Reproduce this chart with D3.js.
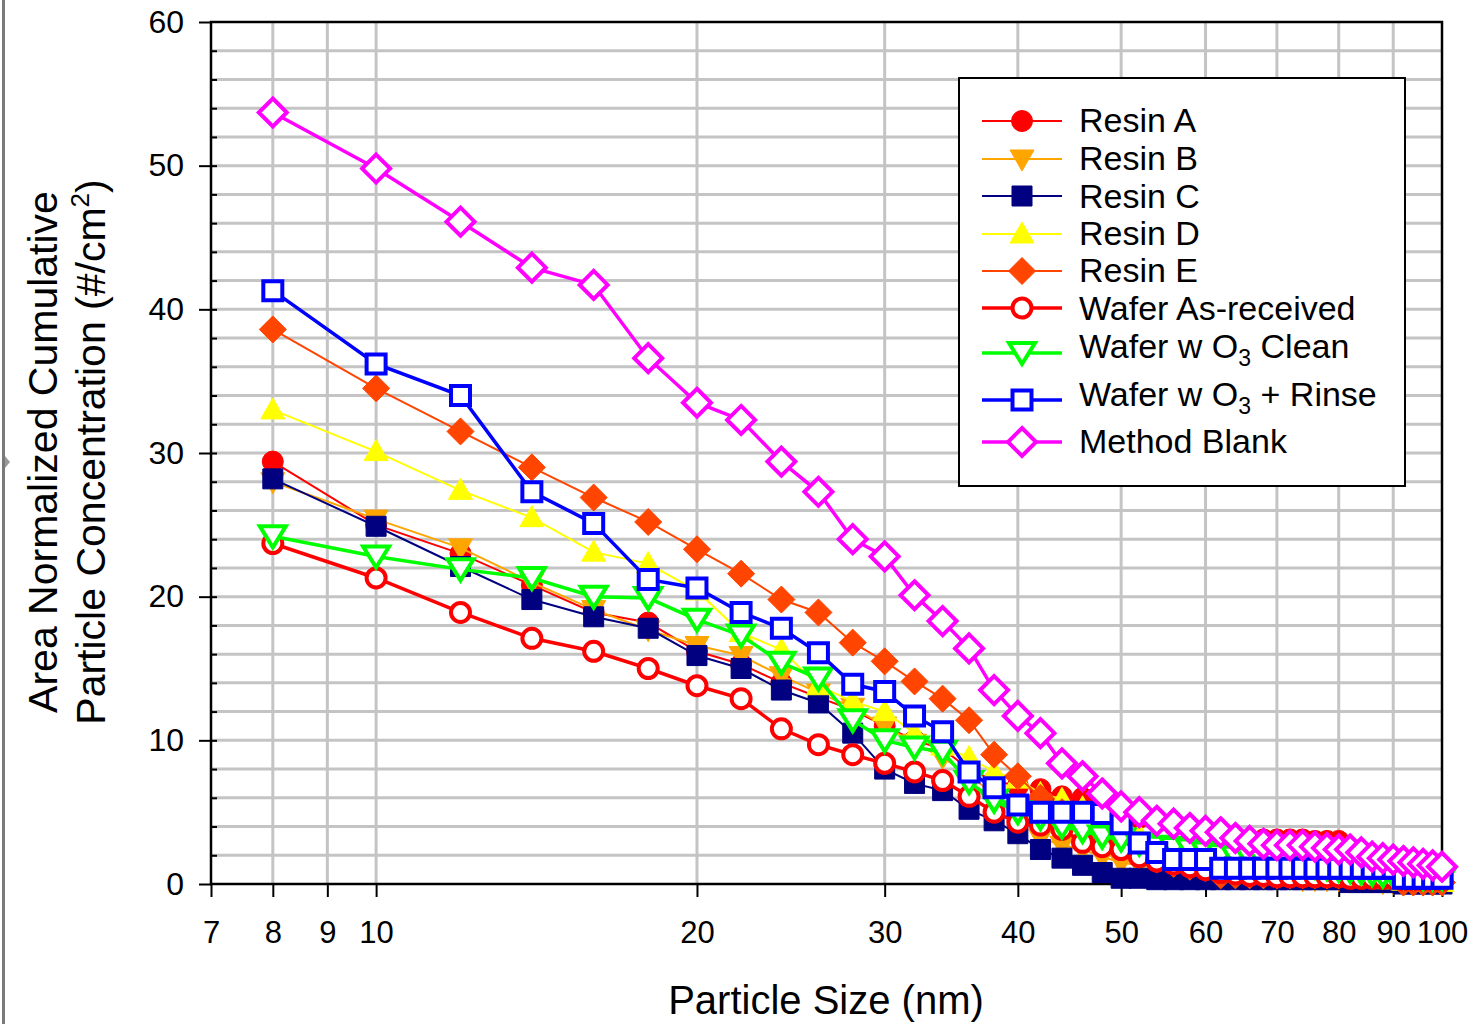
<!DOCTYPE html>
<html><head><meta charset="utf-8">
<script src="https://cdn.jsdelivr.net/npm/d3@7"></script>
<style>
body{margin:0;background:#fff;}
svg{display:block;font-family:"Liberation Sans",Arial,sans-serif;}
</style>
</head><body>
<svg id="c" width="1483" height="1024"></svg>
<script>
// ---------------- data ----------------
const sizes = [8,10,12,14,16,18,20,22,24,26,
               28,30,32,34,36,38,40,42,44,46,
               48,50,52,54,56,58,60,62,64,66,
               68,70,72,74,76,78,80,82,84,86,
               88,90,92,94,96,98,100];
const xTickValues = [7,8,9,10,20,30,40,50,60,70,80,90,100];
const yTickValues = [0,10,20,30,40,50,60];
const yGridValues = [2,4,6,8,10,12,14,16,18,20,22,24,26,28,30,32,34,36,38,40,42,44,46,48,50,52,54,56,58];

const resinA = [29.4,25.0,23.0,20.8,18.9,18.2,16.2,15.3,14.0,13.0,
                12.1,11.0,10.0,9.4,8.0,7.2,6.8,6.6,6.1,6.0,
                5.5,5.0,4.6,4.4,4.1,3.8,3.6,3.4,3.2,3.1,
                3.1,3.1,3.1,3.1,3.0,3.0,3.0,0.5,0.4,0.4,
                0.3,0.3,0.2,0.2,0.2,0.2,0.2];
const resinB = [28.0,25.4,23.4,21.0,19.1,17.7,16.6,15.9,14.5,13.3,
                12.3,11.0,9.8,8.8,7.6,6.2,5.0,3.2,2.7,2.4,
                1.9,1.5,1.3,1.1,0.9,0.8,0.6,0.5,0.5,0.4,
                0.4,0.4,0.4,0.3,0.3,0.3,0.3,0.2,0.2,0.2,
                0.1,0.1,0,0,0,0,0];
const resinC = [28.2,24.9,22.1,19.8,18.6,17.8,15.9,15.0,13.5,12.6,
                10.5,8.0,7.0,6.5,5.2,4.4,3.5,2.4,1.8,1.3,
                0.8,0.4,0.4,0.3,0.3,0.3,0.3,0.3,0.3,0.3,
                0.3,0.3,0.3,0.3,0.3,0.3,0.3,0.1,0.1,0.1,
                0.1,0.1,0,0,0,0,0];
const resinD = [33.0,30.1,27.4,25.5,23.1,22.3,20.4,17.5,16.3,13.8,
                12.7,12.0,10.5,9.6,8.8,7.8,7.3,6.3,5.9,5.3,
                4.6,3.9,3.4,2.6,2.1,1.7,1.4,1.2,1.0,0.9,
                0.8,0.8,0.7,0.7,0.6,0.6,0.5,0.5,0.4,0.4,
                0.3,0.3,0.2,0.2,0.1,0.1,0.1];
const resinE = [38.6,34.5,31.5,29.0,26.9,25.2,23.3,21.6,19.8,18.9,
                16.8,15.5,14.1,12.9,11.4,9.0,7.5,6.0,5.0,4.2,
                3.4,2.7,2.1,1.7,1.4,1.2,1.1,0.6,0.6,0.6,
                0.6,0.6,0.6,0.6,0.6,0.6,0.6,0.6,0.6,0.6,
                0.6,0.6,0.1,0.1,0.1,0.1,0.1];
const waferAsReceived = [23.7,21.3,18.9,17.1,16.2,15.0,13.8,12.9,10.8,9.7,
                9.0,8.4,7.8,7.2,6.1,5.0,4.3,4.1,3.8,2.9,
                2.6,2.4,1.9,1.6,1.4,1.2,1.0,0.8,0.7,0.6,
                0.6,0.5,0.5,0.5,0.5,0.5,0.5,0.4,0.4,0.4,
                0.4,0.4,0.3,0.3,0.3,0.3,0.3];
const waferO3Clean = [24.2,22.8,21.9,21.3,20.0,19.9,18.4,17.3,15.4,14.3,
                11.4,10.0,9.5,9.2,7.1,5.8,5.0,4.6,4.0,3.7,
                3.3,3.1,2.8,2.6,2.5,2.4,2.2,2.0,1.9,1.8,
                1.6,1.5,1.4,1.3,1.2,1.1,1.0,0.9,0.8,0.7,
                0.6,0.6,0.5,0.5,0.4,0.4,0.4];
const waferO3Rinse = [41.3,36.2,34.0,27.3,25.1,21.2,20.6,18.9,17.8,16.1,
                13.9,13.4,11.7,10.6,7.8,6.7,5.5,5.0,5.0,5.0,
                4.9,4.2,2.85,2.2,1.7,1.7,1.7,1.1,1.1,1.1,
                1.1,1.1,1.1,1.1,1.1,1.1,1.1,1.1,1.1,1.1,
                1.1,1.1,0.4,0.4,0.4,0.4,0.4];
const methodBlank = [53.7,49.8,46.1,42.9,41.7,36.6,33.5,32.3,29.4,27.3,
                24.0,22.8,20.1,18.3,16.4,13.5,11.7,10.5,8.4,7.5,
                6.3,5.4,5.0,4.4,4.2,3.9,3.7,3.6,3.2,3.0,
                2.8,2.7,2.7,2.7,2.6,2.5,2.4,2.4,2.2,1.9,
                1.8,1.7,1.6,1.5,1.4,1.3,1.2];

const seriesNames = ["Resin A","Resin B","Resin C","Resin D","Resin E",
                     "Wafer As-received","Wafer w O3 Clean","Wafer w O3 + Rinse","Method Blank"];
const seriesValues = [resinA,resinB,resinC,resinD,resinE,waferAsReceived,waferO3Clean,waferO3Rinse,methodBlank];

// ---------------- styles ----------------
const styles = [
  {color:"#FF0000", lw:2,   shape:"circle",  fill:true},
  {color:"#FFA500", lw:2,   shape:"triDown", fill:true},
  {color:"#000080", lw:2,   shape:"square",  fill:true},
  {color:"#FFFF00", lw:2,   shape:"triUp",   fill:true},
  {color:"#FF4500", lw:2,   shape:"diamond", fill:true},
  {color:"#FF0000", lw:3.5, shape:"circle",  fill:false},
  {color:"#00FF00", lw:3.5, shape:"triDown", fill:false},
  {color:"#0000FF", lw:3.5, shape:"square",  fill:false},
  {color:"#FF00FF", lw:3.5, shape:"diamond", fill:false}
];

const L = 211, R = 1442, T = 22, B = 884;
const svg = d3.select("#c");
const x = d3.scaleLog().domain([7,100]).range([L,R]);
const y = d3.scaleLinear().domain([0,60]).range([B,T]);

// window frame line at left
svg.append("rect").attr("x",2).attr("y",0).attr("width",3).attr("height",1024).attr("fill","#7a7a7a");
svg.append("path").attr("d","M5,456 L10,462 L5,468 Z").attr("fill","#9a9a9a");

// grid
const grid = svg.append("g");
grid.selectAll("line.h").data(yGridValues).join("line")
  .attr("x1",L).attr("x2",R).attr("y1",d=>y(d)).attr("y2",d=>y(d))
  .attr("stroke","#c4c4c4").attr("stroke-width",3);
grid.selectAll("line.v").data(xTickValues.slice(1,-1)).join("line")
  .attr("y1",T).attr("y2",B).attr("x1",d=>x(d)).attr("x2",d=>x(d))
  .attr("stroke","#c4c4c4").attr("stroke-width",3);

// axes
const yAxis = svg.append("g").attr("transform",`translate(${L},0)`)
  .call(d3.axisLeft(y).tickValues(yTickValues).tickSize(12).tickPadding(15).tickFormat(d3.format("d")));
const yMinor = svg.append("g").attr("transform",`translate(${L},0)`)
  .call(d3.axisLeft(y).tickValues(yGridValues).tickSize(-6).tickFormat(""));
const xAxis = svg.append("g").attr("transform",`translate(0,${B})`)
  .call(d3.axisBottom(x).tickValues(xTickValues).tickSize(13).tickPadding(24).tickFormat(d3.format("d")));
[yAxis,yMinor,xAxis].forEach(g=>{
  g.select(".domain").remove();
  g.selectAll(".tick line").attr("stroke","#000").attr("stroke-width",2);
  g.selectAll(".tick text").attr("fill","#000").attr("font-size",32)
    .attr("font-family",'"Liberation Sans",Arial,sans-serif');
});
xAxis.selectAll(".tick text").attr("font-size",31);

// frame
svg.append("rect").attr("x",L).attr("y",T).attr("width",R-L).attr("height",B-T)
  .attr("fill","none").attr("stroke","#000").attr("stroke-width",2.5);

// marker path generator
function markerPath(shape){
  switch(shape){
    case "square":  return "M-10,-10H10V10H-10Z";
    case "diamond": return "M0,-13.5L13.5,0L0,13.5L-13.5,0Z";
    case "triUp":   return "M0,-12L12,9L-12,9Z";
    case "triDown": return "M0,12L12,-9L-12,-9Z";
  }
}
function drawMarker(g, st, cx, cy){
  if(st.shape==="circle"){
    g.append("circle").attr("cx",cx).attr("cy",cy)
      .attr("r", st.fill?10.5:9.5)
      .attr("fill", st.fill?st.color:"#fff")
      .attr("stroke", st.color).attr("stroke-width", st.fill?1:4);
  } else {
    let p = markerPath(st.shape);
    if(!st.fill){
      if(st.shape==="square") p = "M-9.5,-9.5H9.5V9.5H-9.5Z";
      if(st.shape==="diamond") p = "M0,-14L14,0L0,14L-14,0Z";
      if(st.shape==="triDown") p = "M0,11L13,-10L-13,-10Z";
    }
    g.append("path").attr("d",p).attr("transform",`translate(${cx},${cy})`)
      .attr("fill", st.fill?st.color:"#fff")
      .attr("stroke", st.color).attr("stroke-width", st.fill?1:4)
      .attr("stroke-linejoin","miter");
  }
}

// series
const line = d3.line().x(d=>x(d[0])).y(d=>y(d[1]));
seriesValues.forEach((vals,i)=>{
  const st = styles[i];
  const pts = sizes.map((s,k)=>[s, vals[k]]);
  const g = svg.append("g").attr("class","series");
  g.append("path").attr("d",line(pts)).attr("fill","none")
    .attr("stroke",st.color).attr("stroke-width",st.lw);
  pts.forEach(p=>drawMarker(g, st, x(p[0]), y(p[1])));
});

// legend
const lg = svg.append("g");
lg.append("rect").attr("x",959).attr("y",78).attr("width",446).attr("height",408)
  .attr("fill","#fff").attr("stroke","#000").attr("stroke-width",2);
const rowY = [121,159,196,234,271,308,353,400,442];
const textY = [132,170,208,245,282,320,358,406,453];
seriesNames.forEach((name,i)=>{
  const st = styles[i];
  lg.append("line").attr("x1",982).attr("x2",1062).attr("y1",rowY[i]).attr("y2",rowY[i])
    .attr("stroke",st.color).attr("stroke-width",st.lw);
  drawMarker(lg, st, 1022, rowY[i]);
  const t = lg.append("text").attr("x",1079).attr("y",textY[i]).attr("font-size",34).attr("fill","#000");
  if(name.indexOf("O3")>=0){
    const parts = name.split("O3");
    t.append("tspan").text(parts[0]+"O");
    t.append("tspan").text("3").attr("font-size",23).attr("dy",8);
    t.append("tspan").text(parts[1]).attr("dy",-8);
  } else t.text(name);
});

// axis titles
svg.append("text").attr("x",826).attr("y",1014).attr("text-anchor","middle")
  .attr("font-size",40).attr("fill","#000").text("Particle Size (nm)");
const yt = svg.append("g").attr("transform","translate(0,452) rotate(-90)");
yt.append("text").attr("x",0).attr("y",57).attr("text-anchor","middle")
  .attr("font-size",41).attr("fill","#000").text("Area Normalized Cumulative");
const t2 = yt.append("text").attr("x",0).attr("y",105).attr("text-anchor","middle")
  .attr("font-size",41).attr("fill","#000");
t2.append("tspan").text("Particle Concentration (#/cm");
t2.append("tspan").text("2").attr("font-size",26).attr("dy",-16);
t2.append("tspan").text(")").attr("dy",16);
</script>
</body></html>
